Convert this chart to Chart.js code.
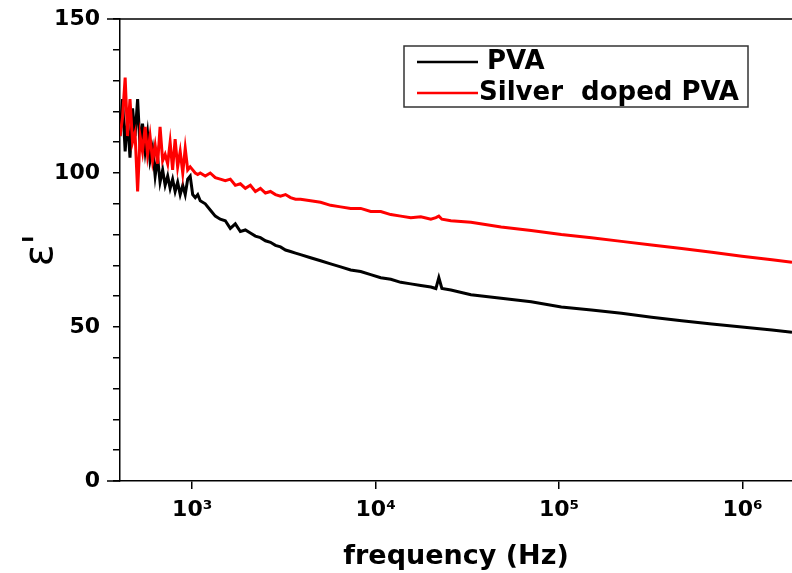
<!DOCTYPE html>
<html>
<head>
<meta charset="utf-8">
<script src="https://cdn.jsdelivr.net/npm/chart.js"></script>
<style>
  html, body { margin: 0; background: #fff; }
  #wrap { width: 792px; height: 573px; }
</style>
</head>
<body>
<div id="wrap"><canvas id="chart"></canvas></div>
<script>
const frequency = [
  404, 417, 431, 444, 458, 473, 488, 504, 520, 536, 554, 571, 589, 608, 628, 648,
  668, 690, 712, 735, 758, 782, 807, 833, 860, 888, 916, 945, 975, 1006, 1039, 1072,
  1106, 1178, 1254, 1336, 1422, 1515, 1613, 1718, 1830, 1949, 2075, 2210, 2354, 2507,
  2670, 2843, 3028, 3225, 3435, 3658, 3895, 4418, 5009, 5681, 6443, 7306, 8286, 9397,
  10660, 12090, 13710, 15540, 17630, 19990, 21300, 22100, 22960, 25710, 33070, 48300,
  70400, 102800, 150000, 218800, 319300, 465800, 679700, 991500, 1447000, 1860000
];

const pva = [
  112, 124, 107, 118, 105, 121, 112, 124, 108, 116, 107, 113, 104, 108, 99, 105,
  97, 101, 96, 99, 95, 98, 94, 97, 93, 96, 93, 98, 99, 93, 92, 93,
  91, 90, 88, 86, 85, 84.5, 82, 83.5, 81, 81.5, 80.5, 79.5, 79, 78,
  77.5, 76.5, 76, 75, 74.5, 74, 73.5, 72.5, 71.5, 70.5, 69.5, 68.5, 68, 67,
  66, 65.5, 64.5, 64, 63.5, 63, 62.5, 66, 62.5, 62, 60.5, 59.3,
  58.2, 56.5, 55.5, 54.5, 53.2, 52, 51, 50, 49, 48.3
];

const silverPva = [
  112, 118, 131, 112, 124, 110, 113, 94, 112, 107, 115, 106, 112, 104, 109, 103,
  115, 104, 106, 103, 110, 101, 111, 102, 107, 100, 108, 101, 102, 101, 100, 99.5,
  100, 99, 100, 98.5, 98, 97.5, 98, 96, 96.5, 95, 96, 94, 95, 93.5,
  94, 93, 92.5, 93, 92, 91.5, 91.5, 91, 90.5, 89.5, 89, 88.5, 88.5, 87.5,
  87.5, 86.5, 86, 85.5, 85.8, 85, 85.5, 86, 85, 84.5, 84, 82.5,
  81.3, 80, 79, 77.8, 76.6, 75.5, 74.3, 73, 71.8, 71
];

const seriesNames = ['PVA', 'Silver  doped PVA'];
const seriesColors = ['#000000', '#ff0000'];
const xTickValues = [1e3, 1e4, 1e5, 1e6];
const yLabelledTicks = [0, 50, 100, 150];

const sup = { 3: '\u00b3', 4: '\u2074', 5: '\u2075', 6: '\u2076' };

Chart.defaults.font.family = 'DejaVu Sans';
Chart.defaults.color = '#000';

// box legend + frame lines that Chart.js does not draw itself
const framePlugin = {
  id: 'frame',
  afterDraw(chart, args, opts) {
    const { ctx, chartArea } = chart;
    ctx.save();
    ctx.strokeStyle = '#000';
    ctx.lineWidth = 1.5;
    ctx.beginPath();
    ctx.moveTo(opts.lineStart, chartArea.top);
    ctx.lineTo(chartArea.right, chartArea.top);
    ctx.moveTo(opts.lineStart, chartArea.bottom);
    ctx.lineTo(chartArea.left, chartArea.bottom);
    ctx.stroke();

    const b = opts.box;
    ctx.strokeStyle = '#333';
    ctx.lineWidth = 1.5;
    ctx.strokeRect(b.x, b.y, b.w, b.h);
    ctx.font = 'bold ' + opts.fontSize + 'px "DejaVu Sans"';
    ctx.textBaseline = 'middle';
    ctx.fillStyle = '#000';
    chart.data.datasets.forEach((ds, i) => {
      const row = opts.rows[i];
      ctx.strokeStyle = ds.borderColor;
      ctx.lineWidth = 2.5;
      ctx.beginPath();
      ctx.moveTo(row.x1, row.y);
      ctx.lineTo(row.x2, row.y);
      ctx.stroke();
      ctx.fillText(ds.label, row.tx, row.y);
    });
    ctx.restore();
  }
};

new Chart(document.getElementById('chart'), {
  type: 'line',
  data: {
    datasets: [pva, silverPva].map((vals, i) => ({
      label: seriesNames[i],
      data: vals.map((v, j) => ({ x: frequency[j], y: v })),
      borderColor: seriesColors[i],
      backgroundColor: seriesColors[i],
      borderWidth: 3,
      pointRadius: 0,
      tension: 0,
      fill: false
    })).reverse()
  },
  options: {
    responsive: true,
    maintainAspectRatio: false,
    animation: false,
    layout: { padding: { top: 19, right: 0, left: 0, bottom: 0 } },
    plugins: {
      legend: { display: false },
      tooltip: { enabled: false },
      frame: {
        lineStart: 107,
        fontSize: 26,
        box: { x: 404, y: 46, w: 344, h: 61 },
        rows: [
          { x1: 417, x2: 478, y: 93, tx: 479 },
          { x1: 417, x2: 478, y: 62, tx: 487 }
        ]
      }
    },
    scales: {
      x: {
        type: 'logarithmic',
        min: 404,
        max: 1860000,
        afterBuildTicks: s => { s.ticks = xTickValues.map(v => ({ value: v })); },
        afterFit: s => { s.height = 92; s.paddingLeft = 0; s.paddingRight = 0; },
        ticks: {
          autoSkip: false,
          maxRotation: 0,
          padding: 8,
          font: { size: 22, weight: 'bold' },
          callback: v => '10' + sup[Math.round(Math.log10(v))]
        },
        grid: { drawOnChartArea: false, color: '#000', lineWidth: 1.5, tickLength: 8 },
        border: { color: '#000', width: 1.5 },
        title: {
          display: true,
          text: 'frequency (Hz)',
          font: { size: 27, weight: 'bold' },
          padding: { top: 4, bottom: 0 }
        }
      },
      y: {
        min: 0,
        max: 150,
        afterFit: s => { s.width = 120; s.paddingTop = 0; s.paddingBottom = 0; },
        ticks: {
          stepSize: 10,
          padding: 13,
          font: { size: 22, weight: 'bold' },
          callback: v => yLabelledTicks.includes(v) ? v : ''
        },
        grid: { drawOnChartArea: false, color: '#000', lineWidth: 1.5, tickLength: 7 },
        border: { color: '#000', width: 1.5 },
        title: {
          display: true,
          text: "\u03b5'",
          font: { size: 40 },
          padding: { top: 18, bottom: 0 }
        }
      }
    }
  },
  plugins: [framePlugin]
});
</script>
</body>
</html>
